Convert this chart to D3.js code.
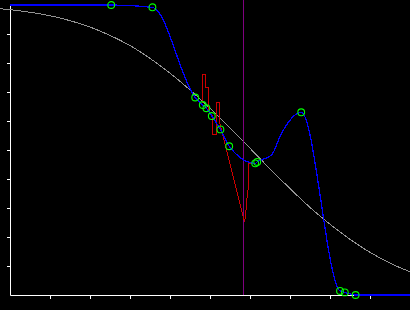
<!DOCTYPE html>
<html>
<head>
<meta charset="utf-8">
<script src="https://cdn.jsdelivr.net/npm/d3@7"></script>
<style>
  html, body { margin: 0; padding: 0; background: #000; }
  svg { display: block; }
</style>
</head>
<body>
<div id="chart"></div>
<script>
// Values (x in 0..10, y in 0..1)
const xTicks = [1, 2, 3, 4, 5, 6, 7, 8, 9];
const yTicks = [0.1, 0.2, 0.3, 0.4, 0.5, 0.6, 0.7, 0.8, 0.9];

// gray reference curve (survival-like, decreasing)
const refX = [-0.25, 0, 0.5, 1, 1.5, 2, 2.5, 3, 3.5, 4, 4.5, 5, 5.5, 6, 6.5, 7, 7.5, 8, 8.5, 9, 9.5, 10];
const refY = [0.987, 0.984, 0.975, 0.963, 0.946, 0.924, 0.895, 0.860, 0.816, 0.765, 0.707, 0.644,
              0.576, 0.506, 0.435, 0.367, 0.302, 0.244, 0.192, 0.147, 0.110, 0.080];

// sampled points (green circles)
const ptX = [2.53, 3.56, 4.63, 4.82, 4.91, 5.045, 5.26, 5.48, 6.13, 6.18, 7.28, 8.25, 8.37, 8.64];
const ptY = [1.0, 0.992, 0.681, 0.655, 0.644, 0.617, 0.571, 0.513, 0.454, 0.459, 0.630, 0.014, 0.009, 0.0];

// blue fitted curve
const fitX = [0, 2.53, 3.56, 4.63, 4.82, 4.91, 5.045, 5.26, 5.48, 6.13, 6.18, 6.54, 6.79, 7.28, 8.25, 8.37, 8.64, 10];
const fitY = [1.0, 1.0, 0.992, 0.681, 0.655, 0.644, 0.617, 0.571, 0.513, 0.454, 0.459, 0.483, 0.558, 0.630, 0.014, 0.009, 0.0, 0.0];

// red jagged path
const redX = [4.80, 4.80, 4.888, 4.888, 4.95, 4.975, 5.0625, 5.0625, 5.1625, 5.1625, 5.2375, 5.2375,
              5.8625, 5.8875, 5.925, 5.9575, 5.9575, 6.125];
const redY = [0.662, 0.762, 0.762, 0.717, 0.717, 0.631, 0.617, 0.552, 0.552, 0.664, 0.664, 0.597,
              0.252, 0.272, 0.334, 0.369, 0.454, 0.454];

// vertical marker
const markX = 5.8375;

const W = 410, H = 310;
const margin = { top: 5, right: 0, bottom: 15, left: 10 };

const x = d3.scaleLinear().domain([0, 10]).range([margin.left, W - margin.right]);
const y = d3.scaleLinear().domain([0, 1]).range([H - margin.bottom, margin.top]);

const svg = d3.select('#chart').append('svg')
    .attr('width', W)
    .attr('height', H)
    .style('background', '#000');

// axes
svg.append('g')
    .attr('transform', `translate(0,${y(0)})`)
    .call(d3.axisBottom(x).tickValues(xTicks).tickSize(4).tickSizeOuter(0).tickFormat(''));
svg.append('g')
    .attr('transform', `translate(${x(0)},0)`)
    .call(d3.axisLeft(y).tickValues(yTicks).tickSize(3).tickSizeOuter(0).tickFormat(''));
svg.selectAll('.domain, .tick line').attr('stroke', '#fff');

const line = (xs, ys, curve) => d3.line()
    .x(i => x(xs[i]))
    .y(i => y(ys[i]))
    .curve(curve)(d3.range(xs.length));

// gray curve
svg.append('path')
    .attr('d', line(refX, refY, d3.curveMonotoneX))
    .attr('fill', 'none')
    .attr('stroke', '#949494')
    .attr('stroke-width', 1)
    .attr('shape-rendering', 'crispEdges');

// vertical marker line
svg.append('line')
    .attr('x1', x(markX)).attr('x2', x(markX))
    .attr('y1', 0).attr('y2', y(0))
    .attr('stroke', '#800080')
    .attr('stroke-width', 1);

// red path
svg.append('path')
    .attr('d', line(redX, redY, d3.curveLinear))
    .attr('fill', 'none')
    .attr('stroke', '#cc0000')
    .attr('stroke-width', 1)
    .attr('shape-rendering', 'crispEdges');

// blue fit
svg.append('path')
    .attr('d', line(fitX, fitY, d3.curveMonotoneX))
    .attr('fill', 'none')
    .attr('stroke', '#0000ff')
    .attr('stroke-width', 1.3)
    .attr('shape-rendering', 'crispEdges');

// points
svg.append('g').selectAll('circle')
    .data(d3.range(ptX.length))
    .join('circle')
    .attr('cx', i => x(ptX[i]))
    .attr('cy', i => y(ptY[i]))
    .attr('r', 3.4)
    .attr('fill', 'none')
    .attr('stroke', '#00ff00')
    .attr('stroke-width', 1.1);
</script>
</body>
</html>
